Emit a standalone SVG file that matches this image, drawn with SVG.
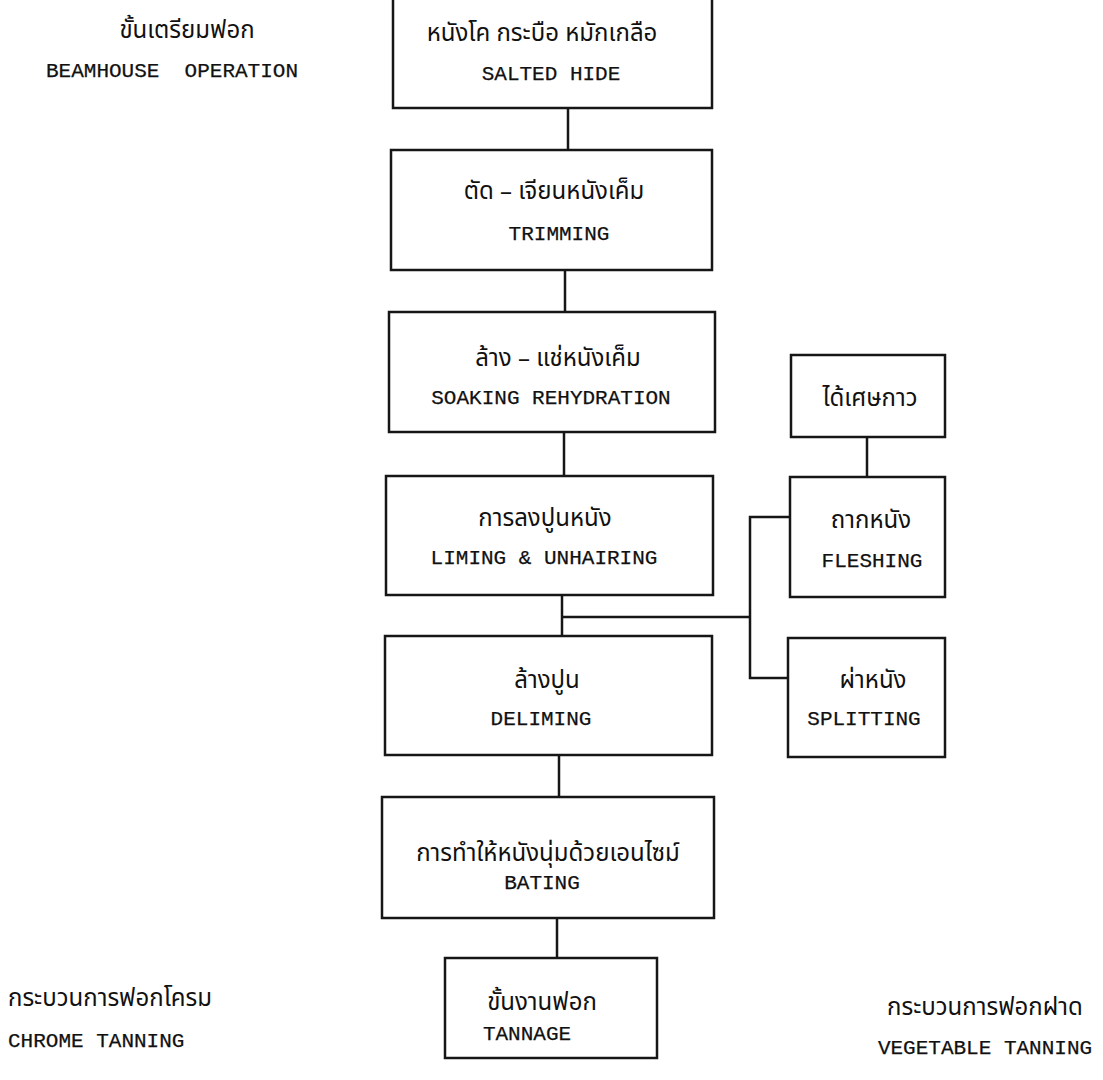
<svg xmlns="http://www.w3.org/2000/svg" width="1103" height="1080" viewBox="0 0 1103 1080">
<style>
.box{fill:none;stroke:#161616;stroke-width:2.5}
.ln{fill:none;stroke:#161616;stroke-width:2.5}
.th{font-family:"Noto Sans Thai","Loma","Garuda","Norasi","Noto Sans","DejaVu Sans",sans-serif;font-size:24px;fill:#111;text-anchor:middle}
.en{font-family:"Liberation Mono","Courier New",monospace;font-size:21px;fill:#111;stroke:#111;stroke-width:0.25;text-anchor:middle}
.l{text-anchor:start}
</style>
<rect width="1103" height="1080" fill="#fff"/>
<g id="connectors">
<line class="ln" x1="568" y1="108" x2="568" y2="150"/>
<line class="ln" x1="565" y1="270" x2="565" y2="312"/>
<line class="ln" x1="564" y1="432" x2="564" y2="476"/>
<line class="ln" x1="562" y1="595" x2="562" y2="636"/>
<polyline class="ln" points="562,617 750,617"/>
<polyline class="ln" points="789,517 750,517 750,678 789,678"/>
<line class="ln" x1="867" y1="437" x2="867" y2="477"/>
<line class="ln" x1="559" y1="755" x2="559" y2="797"/>
<line class="ln" x1="557" y1="918" x2="557" y2="958"/>
</g>
<g id="title-beamhouse">
<text class="th" x="187" y="38">ขั้นเตรียมฟอก</text>
<text class="en" x="172" y="77" xml:space="preserve">BEAMHOUSE  OPERATION</text>
</g>
<g id="salted-hide">
<rect class="box" x="393" y="-4" width="319" height="112"/>
<text class="th" x="542" y="41">หนังโค กระบือ หมักเกลือ</text>
<text class="en" x="551" y="80">SALTED HIDE</text>
</g>
<g id="trimming">
<rect class="box" x="391" y="150" width="321" height="120"/>
<text class="th" x="554" y="199">ตัด – เจียนหนังเค็ม</text>
<text class="en" x="559" y="240">TRIMMING</text>
</g>
<g id="soaking">
<rect class="box" x="389" y="312" width="326" height="120"/>
<text class="th" x="558" y="366">ล้าง – แช่หนังเค็ม</text>
<text class="en" x="551" y="404">SOAKING REHYDRATION</text>
</g>
<g id="liming">
<rect class="box" x="386" y="476" width="327" height="119"/>
<text class="th" x="545" y="526">การลงปูนหนัง</text>
<text class="en" x="544" y="564">LIMING &amp; UNHAIRING</text>
</g>
<g id="deliming">
<rect class="box" x="385" y="636" width="327" height="119"/>
<text class="th" x="547" y="688">ล้างปูน</text>
<text class="en" x="541" y="725">DELIMING</text>
</g>
<g id="bating">
<rect class="box" x="382" y="797" width="332" height="121"/>
<text class="th" x="548" y="861">การทำให้หนังนุ่มด้วยเอนไซม์</text>
<text class="en" x="542" y="889">BATING</text>
</g>
<g id="tannage">
<rect class="box" x="445" y="958" width="212" height="100"/>
<text class="th" x="542" y="1010">ขั้นงานฟอก</text>
<text class="en" x="527" y="1040">TANNAGE</text>
</g>
<g id="glue-waste">
<rect class="box" x="791" y="355" width="154" height="82"/>
<text class="th" x="870" y="406">ได้เศษกาว</text>
</g>
<g id="fleshing">
<rect class="box" x="790" y="477" width="155" height="120"/>
<text class="th" x="871" y="528">ถากหนัง</text>
<text class="en" x="872" y="567">FLESHING</text>
</g>
<g id="splitting">
<rect class="box" x="788" y="638" width="157" height="119"/>
<text class="th" x="873" y="688">ผ่าหนัง</text>
<text class="en" x="864" y="725">SPLITTING</text>
</g>
<g id="chrome-tanning">
<text class="th l" x="8" y="1006">กระบวนการฟอกโครม</text>
<text class="en l" x="8" y="1047">CHROME TANNING</text>
</g>
<g id="vegetable-tanning">
<text class="th" x="985" y="1015">กระบวนการฟอกฝาด</text>
<text class="en" x="985" y="1054">VEGETABLE TANNING</text>
</g>
</svg>
